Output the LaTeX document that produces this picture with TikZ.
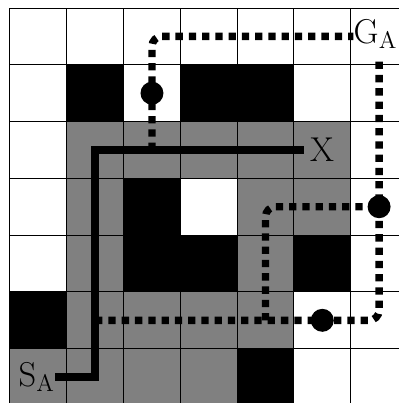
\documentclass[tikz,border=0pt]{standalone}
\begin{document}
\begin{tikzpicture}[x=1cm,y=1cm,
  gridline/.style={line width=0.5pt, draw=black},
  obst/.style={fill=black},
  freecell/.style={fill=black!50},
  solidpath/.style={line width=3.7pt, line join=miter},
  dotpath/.style={line width=3.7pt, dash pattern=on 3.65pt off 3pt, rounded corners=5pt},
  waypt/.style={circle, fill=black, inner sep=0pt, minimum size=11.5pt},
  lbl/.style={inner sep=0pt, font=\fontsize{16.5}{20}\selectfont}]
\useasboundingbox (-0.176,0.044) rectangle (6.833,7.141);
\fill[white] (-0.176,0.044) rectangle (6.833,7.141);
% free (explored) cells
\foreach \c/\r in {1/4,2/4,3/4,4/4,5/4, 1/3,4/3,5/3, 1/2,4/2, 1/1,2/1,3/1,4/1, 0/0,1/0,2/0,3/0}
  \fill[freecell] (\c,\r) rectangle ++(1,1);
% obstacles
\foreach \c/\r in {1/5,3/5,4/5, 2/3, 2/2,3/2,5/2, 0/1, 4/0}
  \fill[obst] (\c,\r) rectangle ++(1,1);
\draw[gridline] (0,0) grid (7,7);
% labels
\node[lbl, anchor=base west] (S) at (0.146,0.343) {$\mathrm{S}_{\mathrm{A}}$};
\node[lbl, inner sep=3pt] (X) at (5.495,4.51) {$\mathrm{X}$};
\node[lbl, anchor=base west] (G) at (6.046,6.379) {$\mathrm{G}_{\mathrm{A}}$};
% path corner coordinates
\coordinate (a1) at (1.5,0.5);
\coordinate (a2) at (1.5,4.5);
\coordinate (b1) at (1.5,1.5);
\coordinate (b2) at (6.5,1.5);
\coordinate (c1) at (4.5,1.5);
\coordinate (c2) at (4.5,3.5);
\coordinate (e1) at (2.5,4.5);
\coordinate (e2) at (2.5,6.5);
% waypoints
\coordinate (p1) at (2.5,5.5);
\coordinate (p2) at (6.5,3.5);
\coordinate (p3) at (5.5,1.5);
% dotted paths
\draw[dotpath] (b1) -- (p3) -- (b2) -- ([yshift=-5pt]G.south -| b2);
\draw[dotpath] (c1) -- (c2) -- (p2);
\draw[dotpath] (e1) -- (p1) -- (e2) -- (G.west |- e2);
% solid path
\draw[solidpath] (S.east |- a1) -- (a1) -- (a2) -- (X.west |- a2);
% waypoint dots
\node[waypt] (d1) at (p1) {};
\node[waypt] (d2) at (p2) {};
\node[waypt] (d3) at (p3) {};
\end{tikzpicture}
\end{document}
